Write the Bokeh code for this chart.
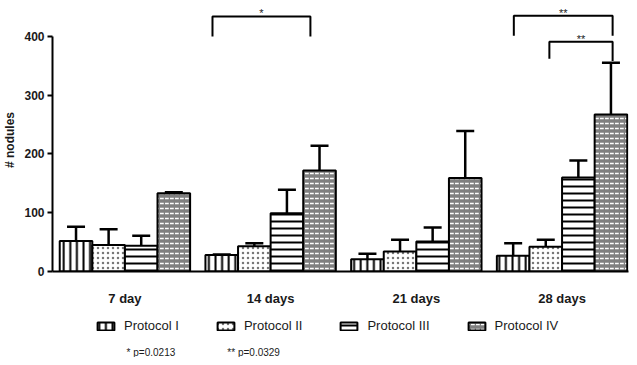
from bokeh.plotting import figure
from bokeh.layouts import column
from bokeh.models import (ColumnDataSource, Range1d, FixedTicker, Legend, LegendItem,
                          Whisker, TeeHead, Label)
from bokeh.embed import file_html
from bokeh.resources import INLINE

# ---- data ----
days = ["7 day", "14 days", "21 days", "28 days"]
protocols = ["Protocol I", "Protocol II", "Protocol III", "Protocol IV"]
mean_p1 = [52, 28, 21, 27]
mean_p2 = [45, 43, 34, 42]
mean_p3 = [44, 99, 51, 160]
mean_p4 = [133, 172, 159, 267]
sd_p1 = [24, 1, 9, 21]
sd_p2 = [27, 5, 20, 12]
sd_p3 = [17, 40, 24, 29]
sd_p4 = [2, 42, 80, 88]
y_ticks = [0, 100, 200, 300, 400]
footnotes = ["* p=0.0213", "** p=0.0329"]

# significance brackets: (x_left, x_right, y_top, y_left_end, y_right_end, mark)
brackets = [
    (0.601, 1.273, 434, 400, 400, "*"),
    (2.669, 3.347, 435, 401, 401, "**"),
    (2.913, 3.347, 391, 362, 358, "**"),
]

FONT = "Liberation Sans"
TXT = "#1a1a1a"
bar_w = 0.2237
offsets = [-1.5 * bar_w, -0.5 * bar_w, 0.5 * bar_w, 1.5 * bar_w]

p = figure(width=629, height=309, output_backend="svg", toolbar_location=None,
           x_range=Range1d(-0.497, 3.456), y_range=Range1d(0, 447.5),
           min_border_left=45, min_border_right=1, min_border_top=8, min_border_bottom=38)
p.outline_line_color = None
p.grid.visible = False

styles = [
    dict(fill_color="white", hatch_pattern="vertical_line", hatch_color="black",
         hatch_scale=6.6, hatch_weight=2),
    dict(fill_color="white", hatch_pattern="dot", hatch_color="#777777",
         hatch_scale=5, hatch_weight=1.2),
    dict(fill_color="white", hatch_pattern="horizontal_line", hatch_color="black",
         hatch_scale=7, hatch_weight=2),
    dict(fill_color="#808080", hatch_pattern="horizontal_dash", hatch_color="white",
         hatch_scale=5, hatch_weight=1.5),
]

means = [mean_p1, mean_p2, mean_p3, mean_p4]
sds = [sd_p1, sd_p2, sd_p3, sd_p4]
for k in range(4):
    xs = [i + offsets[k] for i in range(len(days))]
    src = ColumnDataSource(dict(x=xs, top=means[k],
                                upper=[m + s for m, s in zip(means[k], sds[k])]))
    w = Whisker(base="x", lower="top", upper="upper", source=src,
                line_color="black", line_width=2.5,
                upper_head=TeeHead(size=18, line_color="black", line_width=2.5),
                lower_head=None)
    p.add_layout(w)
    p.vbar(x="x", top="top", width=bar_w, bottom=0, source=src,
           line_color="black", line_width=2, **styles[k])

# significance brackets
for (x0, x1, yt, yl, yr, mark) in brackets:
    p.line([x0, x0, x1, x1], [yl, yt, yt, yr], line_color="black", line_width=2)
    p.add_layout(Label(x=(x0 + x1) / 2, y=yt + 5, text=mark, text_align="center",
                       text_baseline="alphabetic", text_font=FONT, text_font_size="11px",
                       text_color=TXT))

# axes
xa = p.xaxis[0]
xa.ticker = FixedTicker(ticks=list(range(len(days))))
xa.major_label_overrides = {i: d for i, d in enumerate(days)}
xa.major_tick_line_color = None
xa.major_tick_out = 0
xa.major_tick_in = 0
xa.minor_tick_line_color = None
xa.axis_line_width = 2
xa.major_label_standoff = 19
xa.major_label_text_font = FONT
xa.major_label_text_font_style = "bold"
xa.major_label_text_font_size = "13px"
xa.major_label_text_color = TXT

ya = p.yaxis[0]
ya.ticker = FixedTicker(ticks=y_ticks)
ya.bounds = (0, 400)
ya.axis_line_width = 2
ya.major_tick_line_width = 2
ya.major_tick_out = 5
ya.major_tick_in = 0
ya.minor_tick_line_color = None
ya.major_label_standoff = 3
ya.major_label_text_font = FONT
ya.major_label_text_font_style = "bold"
ya.major_label_text_font_size = "12px"
ya.major_label_text_color = TXT
ya.axis_label = "# nodules"
ya.axis_label_text_font = FONT
ya.axis_label_text_font_style = "bold"
ya.axis_label_text_font_size = "12px"
ya.axis_label_text_color = TXT
ya.axis_label_standoff = 4

# ---- legend + footnotes strip (frame aligned with the main plot frame) ----
p2 = figure(width=629, height=48, output_backend="svg", toolbar_location=None,
            x_range=Range1d(53, 636), y_range=Range1d(0, 48),
            x_axis_type=None, y_axis_type=None,
            min_border_left=45, min_border_right=1, min_border_top=0, min_border_bottom=0)
p2.outline_line_color = None
p2.grid.visible = False

nan = float("nan")
items = []
for k in range(4):
    # legend-only renderer (a single undefined bar, never drawn)
    r = p2.vbar(x=[nan], top=[nan], width=1, line_color="black", line_width=2, **styles[k])
    items.append(LegendItem(label=protocols[k], renderers=[r]))

legend = Legend(items=items, orientation="horizontal", location=(43, 24),
                border_line_color=None, background_fill_alpha=0,
                label_text_font=FONT, label_text_font_size="13px",
                label_text_color=TXT, label_height=14,
                glyph_width=21, glyph_height=10, spacing=36, padding=0, margin=0,
                label_standoff=8)
p2.add_layout(legend)

p2.add_layout(Label(x=128, y=5, text=footnotes[0], text_font=FONT,
                    text_font_size="10px", text_color=TXT, text_baseline="middle"))
p2.add_layout(Label(x=230, y=5, text=footnotes[1], text_font=FONT,
                    text_font_size="10px", text_color=TXT, text_baseline="middle"))

layout = column(p, p2, spacing=0)
open("out.html", "w").write(file_html(layout, INLINE))
